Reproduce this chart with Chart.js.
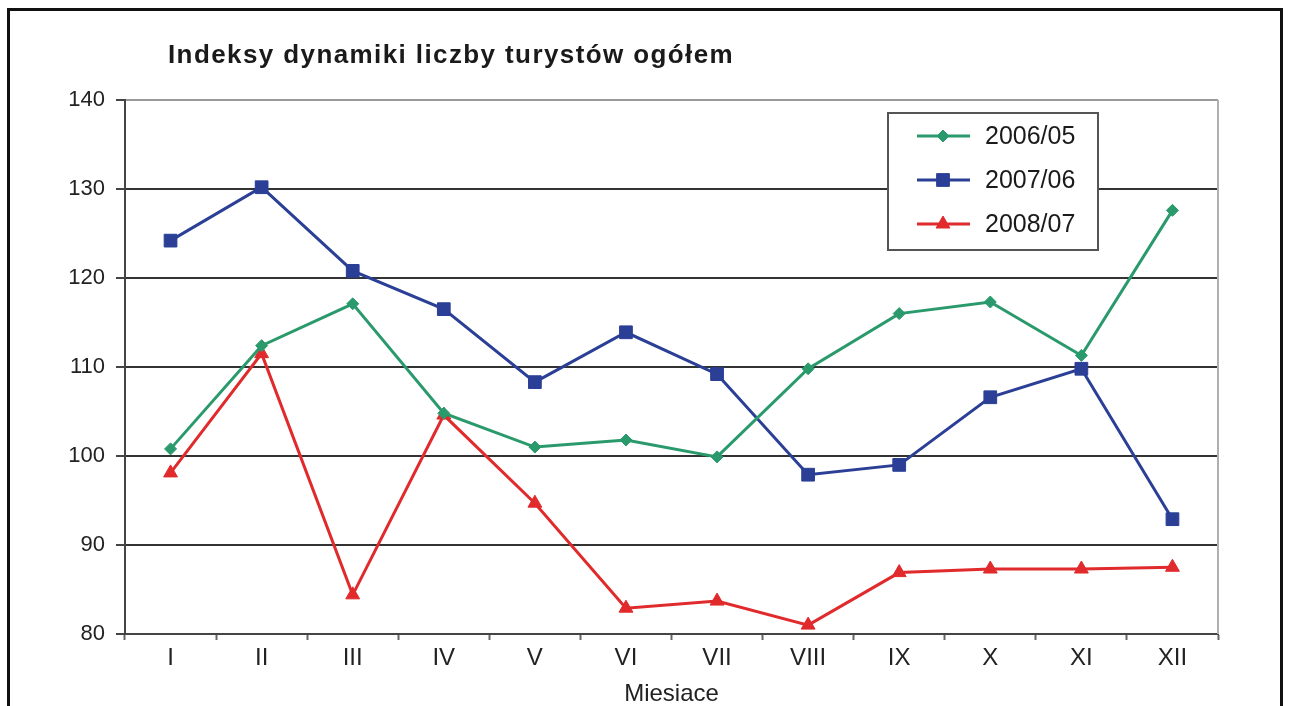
<!DOCTYPE html>
<html>
<head>
<meta charset="utf-8">
<script src="https://cdn.jsdelivr.net/npm/chart.js@4/dist/chart.umd.min.js"></script>
<style>
  html, body { margin: 0; padding: 0; background: #fff; overflow: hidden; }
  #frame { position: absolute; left: 7px; top: 8px; width: 1270px; height: 720px; border: 3px solid #111; }
  #wrap { position: absolute; left: 0; top: 0; width: 1290px; height: 706px; }
</style>
</head>
<body>
<div id="frame"></div>
<div id="wrap"><canvas id="chart"></canvas></div>
<script>
// Data
const months = ['I', 'II', 'III', 'IV', 'V', 'VI', 'VII', 'VIII', 'IX', 'X', 'XI', 'XII'];
const seriesLabels = ['2006/05', '2007/06', '2008/07'];
const values0605 = [100.8, 112.4, 117.1, 104.8, 101.0, 101.8, 99.9, 109.8, 116.0, 117.3, 111.3, 127.6];
const values0706 = [124.2, 130.2, 120.8, 116.5, 108.3, 113.9, 109.2, 97.9, 99.0, 106.6, 109.8, 92.9];
const values0807 = [98.1, 111.5, 84.4, 104.6, 94.7, 82.9, 83.7, 81.0, 86.9, 87.3, 87.3, 87.5];
const yTicks = [80, 90, 100, 110, 120, 130, 140];

const chartTitle = 'Indeksy dynamiki liczby turystów ogółem';
const fontFamily = '"Liberation Sans", Arial, sans-serif';

const green = '#2a9a6c';
const blue = '#2a3f95';
const red = '#e02a2c';

function makeSet(label, data, color, style, radius) {
    return {
        label: label,
        data: data,
        borderColor: color,
        backgroundColor: color,
        borderWidth: 3,
        pointStyle: style,
        pointRadius: radius,
        pointHoverRadius: radius,
        pointBorderWidth: 1,
        tension: 0
    };
}

// Title, plot border and the boxed legend
const decorations = {
    id: 'decorations',
    afterDraw(chart) {
        const ctx = chart.ctx;
        const area = chart.chartArea;
        ctx.save();

        // right edge of plot area
        ctx.strokeStyle = '#b0b0b0';
        ctx.lineWidth = 2;
        ctx.beginPath();
        ctx.moveTo(area.right, area.top);
        ctx.lineTo(area.right, area.bottom);
        ctx.stroke();

        // title
        ctx.fillStyle = '#1a1a1a';
        ctx.font = 'bold 26px ' + fontFamily;
        ctx.letterSpacing = '1.4px';
        ctx.textBaseline = 'middle';
        ctx.textAlign = 'left';
        ctx.fillText(chartTitle, 168, 56);
        ctx.letterSpacing = '0px';

        // legend box
        const bx = 888, by = 113, bw = 210, bh = 137;
        ctx.fillStyle = '#fff';
        ctx.fillRect(bx, by, bw, bh);
        ctx.strokeStyle = '#555';
        ctx.lineWidth = 2;
        ctx.strokeRect(bx, by, bw, bh);

        chart.data.datasets.forEach((ds, i) => {
            const y = by + 23 + i * 44;
            ctx.strokeStyle = ds.borderColor;
            ctx.lineWidth = 3;
            ctx.beginPath();
            ctx.moveTo(bx + 29, y);
            ctx.lineTo(bx + 82, y);
            ctx.stroke();
            ctx.fillStyle = ds.backgroundColor;
            ctx.strokeStyle = ds.borderColor;
            ctx.lineWidth = 1;
            Chart.helpers.drawPoint(ctx, { pointStyle: ds.pointStyle, radius: ds.pointRadius, rotation: 0, borderWidth: 1 }, bx + 55, y);
            ctx.fillStyle = '#1a1a1a';
            ctx.font = '25px ' + fontFamily;
            ctx.textAlign = 'left';
            ctx.textBaseline = 'middle';
            ctx.fillText(ds.label, bx + 97, y + 1);
        });
        ctx.restore();
    }
};

new Chart(document.getElementById('chart'), {
    type: 'line',
    data: {
        labels: months,
        datasets: [
            makeSet(seriesLabels[0], values0605, green, 'rectRot', 6),
            makeSet(seriesLabels[1], values0706, blue, 'rect', 9),
            makeSet(seriesLabels[2], values0807, red, 'triangle', 8)
        ]
    },
    options: {
        responsive: true,
        maintainAspectRatio: false,
        animation: false,
        layout: { padding: { left: 60, right: 72, top: 100, bottom: 0 } },
        plugins: {
            legend: { display: false },
            title: { display: false },
            tooltip: { enabled: false }
        },
        scales: {
            x: {
                offset: true,
                afterFit(scale) { scale.height = 72; },
                grid: {
                    offset: true,
                    drawOnChartArea: false,
                    drawTicks: true,
                    tickLength: 6,
                    tickWidth: 2,
                    tickColor: '#666'
                },
                border: { color: '#444', width: 2 },
                ticks: {
                    color: '#222',
                    font: { family: fontFamily, size: 24 },
                    padding: 4,
                    maxRotation: 0
                },
                title: {
                    display: true,
                    text: 'Miesiace',
                    color: '#222',
                    font: { family: fontFamily, size: 24, lineHeight: 1 },
                    padding: { top: 0, bottom: 0 }
                }
            },
            y: {
                min: yTicks[0],
                max: yTicks[yTicks.length - 1],
                afterFit(scale) { scale.width = 65; },
                afterBuildTicks(scale) { scale.ticks = yTicks.map(v => ({ value: v })); },
                grid: {
                    color: ctx => (ctx.tick && ctx.tick.value === 140 ? '#999' : '#333'),
                    lineWidth: 2,
                    tickLength: 9,
                    tickColor: '#444',
                    tickWidth: 2
                },
                border: { color: '#444', width: 2 },
                ticks: {
                    color: '#222',
                    font: { family: fontFamily, size: 22 },
                    padding: 11
                }
            }
        }
    },
    plugins: [decorations]
});
</script>
</body>
</html>
